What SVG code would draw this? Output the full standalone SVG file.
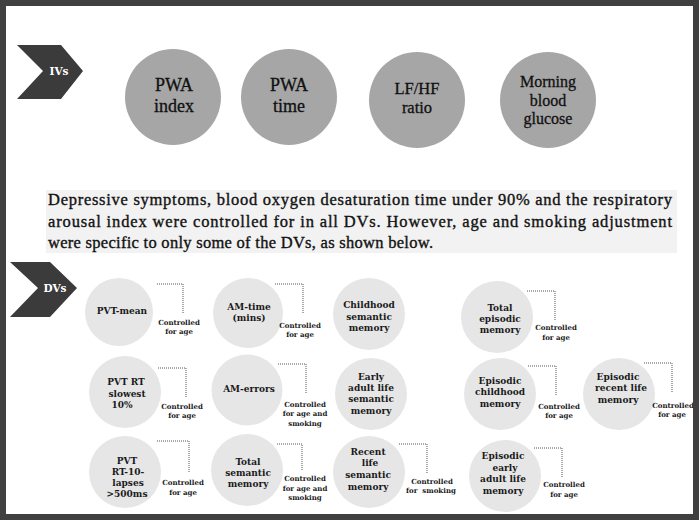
<svg xmlns="http://www.w3.org/2000/svg" width="699" height="520" viewBox="0 0 699 520">
<style>
.chev{fill:#3b3b3b}
.chevt{font-family:"DejaVu Serif",serif;font-weight:bold;font-size:10.5px;fill:#fff;text-anchor:middle;dominant-baseline:central}
.iv{fill:#a6a6a6}
.ivt{font-family:"Liberation Serif","Times New Roman",serif;fill:#111;text-anchor:middle;stroke:#111;stroke-width:0.3}
.dv{fill:#e6e6e6}
.dvt{font-family:"DejaVu Serif",serif;font-weight:bold;font-size:9px;fill:#1a1a1a;text-anchor:middle;dominant-baseline:central}
.lbl{font-family:"DejaVu Serif",serif;font-weight:bold;font-size:7px;fill:#1a1a1a;text-anchor:middle;dominant-baseline:central}
.con{fill:none;stroke:#555;stroke-width:1;stroke-dasharray:1 1}
.note{font-family:"Liberation Serif","Times New Roman",serif;font-size:16.5px;fill:#111;stroke:#111;stroke-width:0.35}
</style>
<rect x="3" y="3" width="693" height="514" fill="#fff" stroke="#404040" stroke-width="6"/>

<g id="ivs-marker">
<polygon class="chev" points="17,45 61,45 83,71 61,99 17,99 43,71"/>
<text class="chevt" x="59" y="71">IVs</text>
</g>
<g id="iv-pwa-index">
<circle class="iv" cx="173" cy="97" r="48"/>
<text class="ivt" x="174" y="91" font-size="18">PWA</text>
<text class="ivt" x="174" y="112" font-size="18">index</text>
</g>
<g id="iv-pwa-time">
<circle class="iv" cx="289" cy="97" r="48"/>
<text class="ivt" x="289" y="91" font-size="18">PWA</text>
<text class="ivt" x="289" y="112" font-size="18">time</text>
</g>
<g id="iv-lfhf">
<circle class="iv" cx="417" cy="100" r="48"/>
<text class="ivt" x="417" y="94" font-size="16.5" stroke-width="0.5">LF/HF</text>
<text class="ivt" x="417" y="113" font-size="16.5" stroke-width="0.5">ratio</text>
</g>
<g id="iv-glucose">
<circle class="iv" cx="548" cy="100" r="48"/>
<text class="ivt" x="548" y="87" font-size="16" stroke-width="0.45">Morning</text>
<text class="ivt" x="548" y="106" font-size="16" stroke-width="0.45">blood</text>
<text class="ivt" x="548" y="124" font-size="16" stroke-width="0.45">glucose</text>
</g>

<g id="note">
<rect x="46" y="190" width="631" height="63" fill="#f2f2f2"/>
<text class="note" x="48" y="205" textLength="624" lengthAdjust="spacing">Depressive symptoms, blood oxygen desaturation time under 90% and the respiratory</text>
<text class="note" x="48" y="227" textLength="624" lengthAdjust="spacing">arousal index were controlled for in all DVs. However, age and smoking adjustment</text>
<text class="note" x="48" y="248" textLength="385" lengthAdjust="spacing">were specific to only some of the DVs, as shown below.</text>
</g>

<g id="dvs-marker">
<polygon class="chev" points="10,262 50,262 77,288 50,317 10,317 38,288"/>
<text class="chevt" x="55" y="288">DVs</text>
</g>

<g id="dv-pvt-mean">
<circle class="dv" cx="119" cy="312" r="34"/>
<text class="dvt" x="122" y="311">PVT-mean</text>
</g>
<g id="dv-pvt-slowest">
<circle class="dv" cx="125" cy="392" r="36"/>
<text class="dvt" x="126" y="382">PVT RT</text>
<text class="dvt" x="127" y="394">slowest</text>
<text class="dvt" x="122" y="405">10%</text>
</g>
<g id="dv-pvt-lapses">
<circle class="dv" cx="125" cy="472" r="36"/>
<text class="dvt" x="127" y="461">PVT</text>
<text class="dvt" x="128" y="472">RT-10-</text>
<text class="dvt" x="128" y="483">lapses</text>
<text class="dvt" x="127" y="494">&gt;500ms</text>
</g>
<g id="dv-am-time">
<circle class="dv" cx="248" cy="313" r="35"/>
<text class="dvt" x="249" y="307">AM-time</text>
<text class="dvt" x="249" y="318">(mins)</text>
</g>
<g id="dv-am-errors">
<circle class="dv" cx="247" cy="390" r="35.5"/>
<text class="dvt" x="249" y="389">AM-errors</text>
</g>
<g id="dv-total-semantic">
<circle class="dv" cx="247" cy="470" r="36"/>
<text class="dvt" x="248" y="462">Total</text>
<text class="dvt" x="248" y="473">semantic</text>
<text class="dvt" x="248" y="484">memory</text>
</g>
<g id="dv-childhood-semantic">
<circle class="dv" cx="369" cy="314" r="36"/>
<text class="dvt" x="369" y="305">Childhood</text>
<text class="dvt" x="369" y="317">semantic</text>
<text class="dvt" x="369" y="328">memory</text>
</g>
<g id="dv-early-semantic">
<circle class="dv" cx="371" cy="394" r="36"/>
<text class="dvt" x="371" y="377">Early</text>
<text class="dvt" x="371" y="388">adult life</text>
<text class="dvt" x="371" y="399">semantic</text>
<text class="dvt" x="371" y="411">memory</text>
</g>
<g id="dv-recent-semantic">
<circle class="dv" cx="369" cy="472" r="36"/>
<text class="dvt" x="368" y="452">Recent</text>
<text class="dvt" x="370" y="463">life</text>
<text class="dvt" x="368" y="475">semantic</text>
<text class="dvt" x="368" y="487">memory</text>
</g>
<g id="dv-total-episodic">
<circle class="dv" cx="497" cy="317" r="36"/>
<text class="dvt" x="500" y="308">Total</text>
<text class="dvt" x="500" y="319">episodic</text>
<text class="dvt" x="500" y="330">memory</text>
</g>
<g id="dv-episodic-childhood">
<circle class="dv" cx="500" cy="394" r="36"/>
<text class="dvt" x="500" y="381">Episodic</text>
<text class="dvt" x="500" y="392">childhood</text>
<text class="dvt" x="500" y="404">memory</text>
</g>
<g id="dv-episodic-early">
<circle class="dv" cx="505" cy="476" r="36"/>
<text class="dvt" x="503" y="456">Episodic</text>
<text class="dvt" x="505" y="468">early</text>
<text class="dvt" x="503" y="479">adult life</text>
<text class="dvt" x="503" y="491">memory</text>
</g>
<g id="dv-episodic-recent">
<circle class="dv" cx="619" cy="394" r="36"/>
<text class="dvt" x="618" y="377">Episodic</text>
<text class="dvt" x="621" y="388">recent life</text>
<text class="dvt" x="618" y="400">memory</text>
</g>

<g id="connectors">
<polyline class="con" points="157,284 183,284 183,313"/>
<text class="lbl" x="179" y="322">Controlled</text><text class="lbl" x="179" y="331">for age</text>
<polyline class="con" points="158,368 186,368 186,398"/>
<text class="lbl" x="182" y="406">Controlled</text><text class="lbl" x="182" y="415">for age</text>
<polyline class="con" points="157,441 189,441 189,473"/>
<text class="lbl" x="183" y="482">Controlled</text><text class="lbl" x="183" y="492">for age</text>
<polyline class="con" points="275,284 303,284 303,313"/>
<text class="lbl" x="300" y="325">Controlled</text><text class="lbl" x="300" y="334">for age</text>
<polyline class="con" points="278,364 306,364 306,393"/>
<text class="lbl" x="305" y="404">Controlled</text><text class="lbl" x="305" y="413">for age and</text><text class="lbl" x="305" y="423">smoking</text>
<polyline class="con" points="277,444 302,444 302,471"/>
<text class="lbl" x="305" y="478">Controlled</text><text class="lbl" x="305" y="488">for age and</text><text class="lbl" x="305" y="497">smoking</text>
<polyline class="con" points="399,444 427,444 427,473"/>
<text class="lbl" x="432" y="481">Controlled</text><text class="lbl" x="431" y="490" xml:space="preserve">for  smoking</text>
<polyline class="con" points="527,291 555,291 555,320"/>
<text class="lbl" x="556" y="327">Controlled</text><text class="lbl" x="556" y="337">for age</text>
<polyline class="con" points="528,366 556,366 556,395"/>
<text class="lbl" x="559" y="406">Controlled</text><text class="lbl" x="559" y="415">for age</text>
<polyline class="con" points="534,448 562,448 562,478"/>
<text class="lbl" x="564" y="484">Controlled</text><text class="lbl" x="564" y="494">for age</text>
<polyline class="con" points="644,363 672,363 672,392"/>
<text class="lbl" x="673" y="405">Controlled</text><text class="lbl" x="672" y="414">for age</text>
</g>
<rect x="693" y="0" width="6" height="520" fill="#404040"/>
</svg>
